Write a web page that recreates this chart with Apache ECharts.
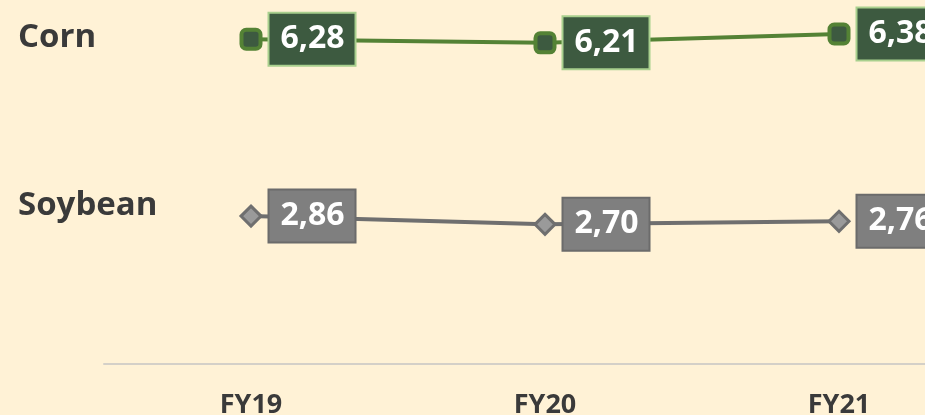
<!DOCTYPE html>
<html>
<head>
<meta charset="utf-8">
<script src="https://cdn.jsdelivr.net/npm/echarts@6/dist/echarts.min.js"></script>
<style>
  html, body { margin: 0; padding: 0; background: #fff2d6; }
  #main { width: 925px; height: 415px; }
</style>
</head>
<body>
<div id="main"></div>
<script>
// years on the x axis
var years = ['FY19', 'FY20', 'FY21'];
// values per crop
var cornValues = [6.28, 6.21, 6.38];
var soyValues = [2.86, 2.70, 2.76];
var seriesNames = ['Corn', 'Soybean'];

var myChart = echarts.init(document.getElementById('main'));

// comma decimal like the source
function fmt(p) {
  return p.value.toFixed(2).replace('.', ',');
}

function boxLabel(fill, border) {
  return {
    show: true,
    position: 'right',
    distance: 7,
    formatter: fmt,
    fontFamily: 'Open Sans',
    fontWeight: 'bold',
    fontSize: 32,
    color: '#ffffff',
    backgroundColor: fill,
    borderColor: border,
    borderWidth: 2,
    padding: [8, 10, 9, 11],
    lineHeight: 34
  };
}

var option = {
  backgroundColor: '#fff2d6',
  animation: false,
  grid: { left: 104, width: 882, top: 2, bottom: 51, outerBoundsMode: 'none' },
  xAxis: {
    type: 'category',
    data: years,
    boundaryGap: true,
    axisLine: { lineStyle: { color: '#d4d0c8', width: 2 } },
    axisTick: { show: false },
    axisLabel: {
      margin: 28,
      fontFamily: 'Open Sans',
      fontWeight: 'bold',
      fontSize: 27,
      color: '#3a3a3a'
    }
  },
  yAxis: {
    type: 'value',
    min: 0,
    max: 7,
    show: false,
    splitLine: { show: false }
  },
  graphic: [
    {
      type: 'text', left: 18, top: 21,
      style: { text: seriesNames[0], font: 'bold 33px "Open Sans"', fill: '#3a3a3a' }
    },
    {
      type: 'text', left: 18, top: 189,
      style: { text: seriesNames[1], font: 'bold 33px "Open Sans"', fill: '#3a3a3a' }
    }
  ],
  series: [
    {
      name: seriesNames[0],
      type: 'line',
      data: cornValues,
      symbol: 'roundRect',
      symbolSize: 19,
      lineStyle: { color: '#548235', width: 4 },
      itemStyle: { color: '#3d5a40', borderColor: '#548235', borderWidth: 4 },
      label: boxLabel('#3d5a40', '#a9d08e')
    },
    {
      name: seriesNames[1],
      type: 'line',
      data: soyValues,
      symbol: 'diamond',
      symbolSize: 20,
      lineStyle: { color: '#6f6f6f', width: 4 },
      itemStyle: { color: '#9a9a9a', borderColor: '#6f6f6f', borderWidth: 3 },
      label: boxLabel('#7f7f7f', '#6b6b6b')
    }
  ]
};

myChart.setOption(option);
</script>
</body>
</html>
